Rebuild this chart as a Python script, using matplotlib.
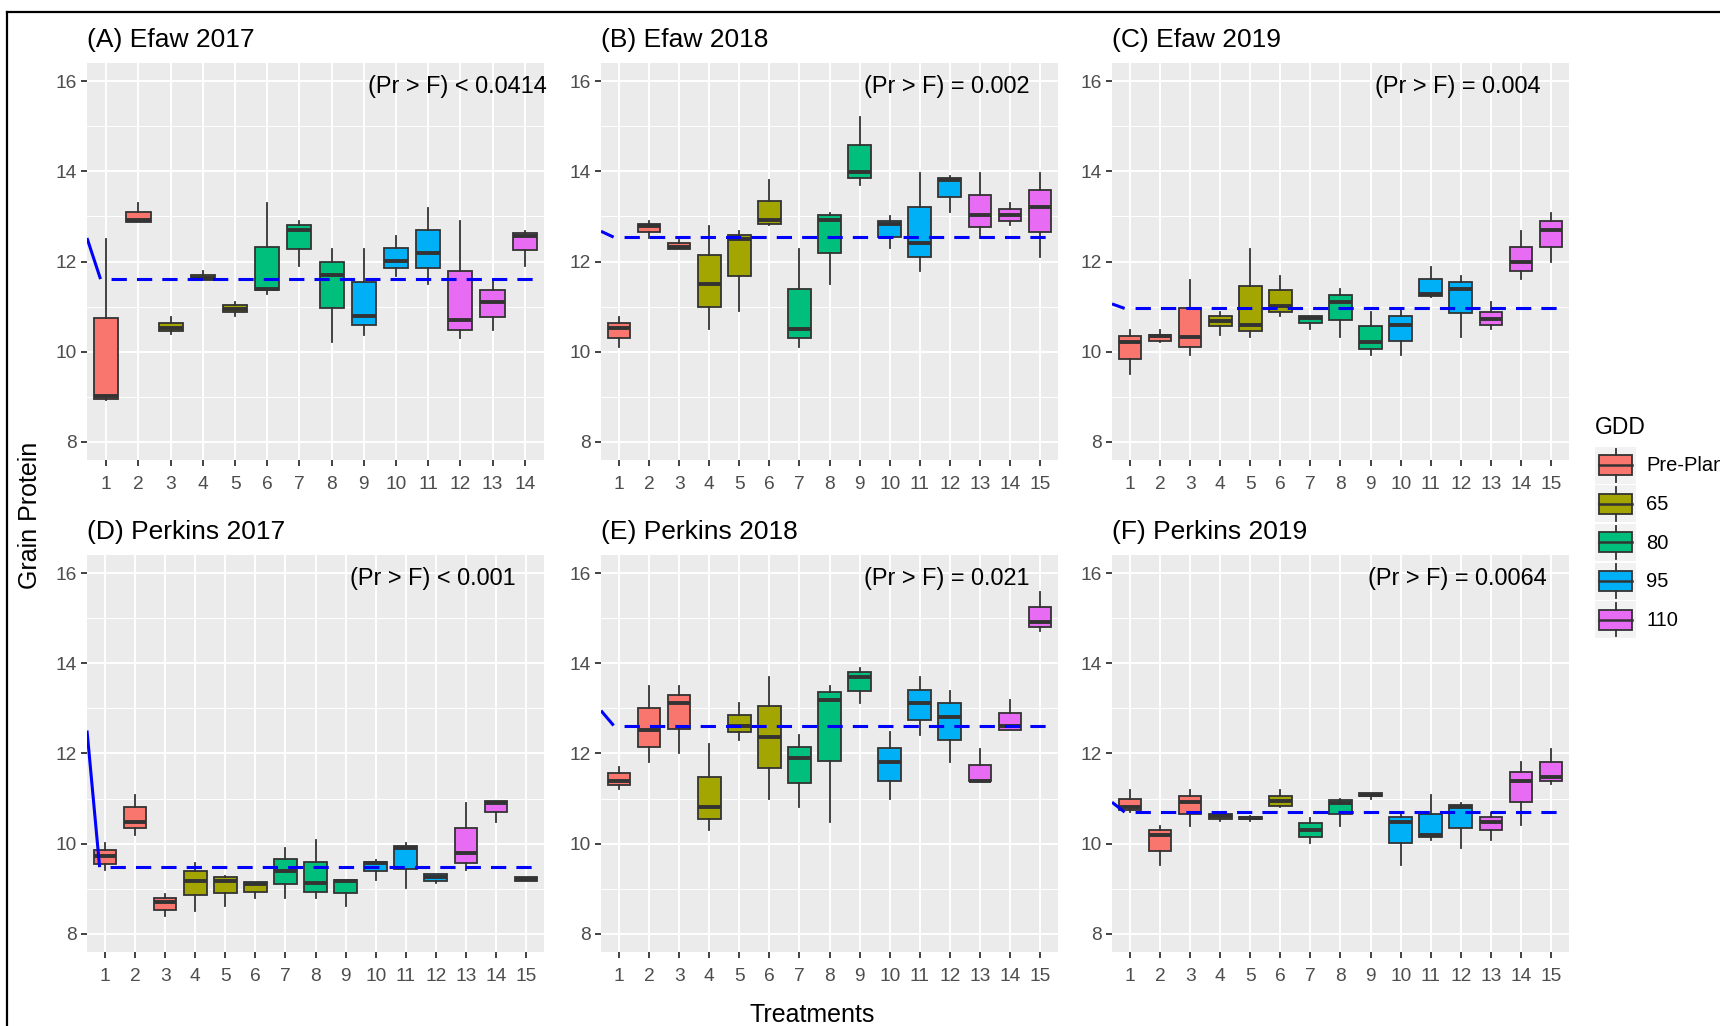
import matplotlib
matplotlib.use("Agg")
import matplotlib.pyplot as plt
from matplotlib.legend_handler import HandlerBase
from matplotlib.patches import Rectangle, Patch
from matplotlib.lines import Line2D

plt.rcParams['font.family'] = ['Liberation Sans', 'DejaVu Sans']

# ---- data ----
gdd_labels = ['Pre-Plant', '65', '80', '95', '110']
gdd_colors = ['#F8766D', '#A3A500', '#00BF7D', '#00B0F6', '#E76BF3']

titles = ['(A) Efaw 2017', '(B) Efaw 2018', '(C) Efaw 2019',
          '(D) Perkins 2017', '(E) Perkins 2018', '(F) Perkins 2019']
pvals = ['(Pr > F) < 0.0414', '(Pr > F) = 0.002', '(Pr > F) = 0.004',
         '(Pr > F) < 0.001', '(Pr > F) = 0.021', '(Pr > F) = 0.0064']

gdd_14 = [0, 0, 1, 1, 1, 2, 2, 2, 3, 3, 3, 4, 4, 4]
gdd_15 = [0, 0, 0, 1, 1, 1, 2, 2, 2, 3, 3, 3, 4, 4, 4]

A_lo  = [8.93, 12.88, 10.40, 11.60, 10.79, 11.28, 11.89, 10.21, 10.38, 11.67, 11.50, 10.31, 10.49, 11.89]
A_q1  = [8.95, 12.88, 10.45, 11.60, 10.88, 11.36, 12.28, 10.96, 10.59, 11.86, 11.86, 10.49, 10.78, 12.25]
A_med = [9.02, 12.91, 10.53, 11.63, 10.95, 11.39, 12.69, 11.69, 10.79, 12.01, 12.19, 10.71, 11.10, 12.56]
A_q3  = [10.75, 13.09, 10.64, 11.69, 11.03, 12.32, 12.80, 12.00, 11.54, 12.29, 12.69, 11.78, 11.36, 12.64]
A_hi  = [12.50, 13.29, 10.77, 11.78, 11.10, 13.29, 12.89, 12.28, 12.28, 12.57, 13.18, 12.90, 11.60, 12.67]

B_lo  = [10.11, 12.52, 12.28, 10.51, 10.90, 12.80, 10.11, 11.50, 13.70, 12.30, 11.80, 13.09, 12.52, 12.80, 12.11]
B_q1  = [10.31, 12.65, 12.28, 10.99, 11.67, 12.84, 10.31, 12.19, 13.85, 12.54, 12.10, 13.44, 12.76, 12.90, 12.65]
B_med = [10.52, 12.78, 12.33, 11.51, 12.50, 12.91, 10.51, 12.92, 13.99, 12.83, 12.41, 13.81, 13.02, 13.04, 13.20]
B_q3  = [10.64, 12.84, 12.41, 12.15, 12.58, 13.33, 11.39, 13.02, 14.58, 12.90, 13.20, 13.85, 13.48, 13.16, 13.59]
B_hi  = [10.77, 12.89, 12.48, 12.79, 12.67, 13.80, 12.28, 13.07, 15.20, 13.00, 13.97, 13.90, 13.97, 13.29, 13.97]

C_lo  = [9.50, 10.21, 9.92, 10.38, 10.32, 10.79, 10.51, 10.32, 9.92, 9.92, 11.21, 10.32, 10.51, 11.62, 12.00]
C_q1  = [9.84, 10.23, 10.10, 10.57, 10.45, 10.88, 10.64, 10.71, 10.07, 10.23, 11.24, 10.86, 10.60, 11.78, 12.32]
C_med = [10.21, 10.34, 10.32, 10.68, 10.60, 11.01, 10.75, 11.10, 10.21, 10.60, 11.28, 11.39, 10.73, 12.00, 12.69]
C_q3  = [10.34, 10.38, 10.97, 10.79, 11.46, 11.36, 10.79, 11.25, 10.57, 10.79, 11.61, 11.54, 10.88, 12.33, 12.90]
C_hi  = [10.48, 10.48, 11.60, 10.87, 12.28, 11.67, 10.79, 11.38, 10.88, 10.97, 11.88, 11.67, 11.10, 12.68, 13.07]

D_lo  = [9.42, 10.20, 8.39, 8.50, 8.61, 8.79, 8.79, 8.79, 8.61, 9.20, 9.01, 9.12, 9.42, 10.49, 9.17]
D_q1  = [9.54, 10.34, 8.53, 8.87, 8.90, 8.94, 9.11, 8.94, 8.90, 9.40, 9.44, 9.18, 9.58, 10.70, 9.17]
D_med = [9.72, 10.49, 8.70, 9.18, 9.18, 9.11, 9.40, 9.12, 9.18, 9.57, 9.91, 9.26, 9.80, 10.91, 9.22]
D_q3  = [9.85, 10.81, 8.79, 9.40, 9.26, 9.15, 9.66, 9.59, 9.20, 9.60, 9.95, 9.32, 10.34, 10.94, 9.26]
D_hi  = [10.01, 11.08, 8.89, 9.57, 9.29, 9.16, 9.90, 10.08, 9.20, 9.63, 10.01, 9.33, 10.90, 10.94, 9.27]

E_lo  = [11.21, 11.82, 12.00, 10.31, 12.29, 10.99, 10.81, 10.49, 13.11, 10.99, 12.40, 11.82, 11.38, 12.51, 14.71]
E_q1  = [11.30, 12.14, 12.54, 10.55, 12.47, 11.67, 11.35, 11.84, 13.39, 11.38, 12.75, 12.29, 11.38, 12.53, 14.80]
E_med = [11.40, 12.51, 13.12, 10.82, 12.62, 12.36, 11.89, 13.19, 13.69, 11.82, 13.12, 12.80, 11.40, 12.62, 14.91]
E_q3  = [11.57, 13.01, 13.30, 11.49, 12.86, 13.05, 12.14, 13.37, 13.80, 12.13, 13.41, 13.11, 11.75, 12.90, 15.24]
E_hi  = [11.71, 13.50, 13.50, 12.21, 13.11, 13.69, 12.40, 13.50, 13.90, 12.48, 13.69, 13.39, 12.10, 13.19, 15.59]

F_lo  = [10.71, 9.52, 10.40, 10.50, 10.50, 10.81, 10.01, 10.40, 10.99, 9.52, 10.09, 9.91, 10.09, 10.42, 11.32]
F_q1  = [10.75, 9.83, 10.66, 10.55, 10.55, 10.83, 10.16, 10.66, 11.05, 10.01, 10.16, 10.34, 10.31, 10.92, 11.38]
F_med = [10.82, 10.19, 10.92, 10.62, 10.58, 10.94, 10.31, 10.90, 11.08, 10.48, 10.20, 10.81, 10.48, 11.40, 11.49]
F_q3  = [10.99, 10.30, 11.05, 10.66, 10.60, 11.05, 10.45, 10.96, 11.12, 10.59, 10.66, 10.85, 10.59, 11.60, 11.82]
F_hi  = [11.20, 10.40, 11.20, 10.70, 10.62, 11.20, 10.57, 10.99, 11.13, 10.66, 11.08, 10.90, 10.68, 11.82, 12.10]

# overall mean (dashed line) and start of the solid lead-in segment
means = [11.61, 12.54, 10.96, 9.48, 12.62, 10.70]
lead_start = [12.52, 12.67, 11.06, 12.51, 12.95, 10.92]

panels = [
    (A_lo, A_q1, A_med, A_q3, A_hi, gdd_14),
    (B_lo, B_q1, B_med, B_q3, B_hi, gdd_15),
    (C_lo, C_q1, C_med, C_q3, C_hi, gdd_15),
    (D_lo, D_q1, D_med, D_q3, D_hi, gdd_15),
    (E_lo, E_q1, E_med, E_q3, E_hi, gdd_15),
    (F_lo, F_q1, F_med, F_q3, F_hi, gdd_15),
]

W, H = 1720, 1026
fig = plt.figure(figsize=(W/100, H/100), dpi=100)

lefts = [87, 601, 1112]
tops = [63, 555]
pw, ph = 457, 397

for k, (lo, q1, med, q3, hi, grp) in enumerate(panels):
    r, c = divmod(k, 3)
    ax = fig.add_axes([lefts[c]/W, 1 - (tops[r]+ph)/H, pw/W, ph/H])
    n = len(med)
    pos = list(range(1, n+1))
    stats = [dict(whislo=lo[i], q1=q1[i], med=med[i], q3=q3[i], whishi=hi[i], fliers=[])
             for i in range(n)]
    bp = ax.bxp(stats, positions=pos, widths=0.75, patch_artist=True, showcaps=False,
                boxprops=dict(edgecolor='#333333', linewidth=1.3),
                medianprops=dict(color='#333333', linewidth=2.8, solid_capstyle='butt'),
                whiskerprops=dict(color='#333333', linewidth=1.3))
    for patch, g in zip(bp['boxes'], grp):
        patch.set_facecolor(gdd_colors[g])
    for z in bp['boxes'] + bp['medians'] + bp['whiskers']:
        z.set_zorder(3)

    # mean line
    ax.plot([0.4, 0.82], [lead_start[k], means[k]], color='#0000FF', lw=2.2, zorder=4,
            solid_capstyle='butt')
    ax.plot([0.82, n + 0.35], [means[k], means[k]], color='#0000FF', lw=2.2, zorder=4,
            linestyle=(5, (5, 3.3)))

    ax.set_xlim(0.4, n + 0.6)
    ax.set_ylim(7.6, 16.4)
    ax.set_facecolor('#EBEBEB')
    ax.set_xticks(pos)
    ax.set_xticklabels([str(p) for p in pos])
    ax.set_yticks([8, 10, 12, 14, 16])
    ax.set_yticks([9, 11, 13, 15], minor=True)
    ax.grid(which='major', color='white', linewidth=1.4)
    ax.grid(which='minor', axis='y', color='white', linewidth=0.7)
    ax.set_axisbelow(True)
    for s in ax.spines.values():
        s.set_visible(False)
    ax.tick_params(axis='both', which='major', length=4.5, width=1.3, color='#333333',
                   labelsize=13.8, labelcolor='#4D4D4D', pad=3)
    ax.tick_params(axis='x', which='major', pad=7)
    ax.tick_params(which='minor', length=0)
    ax.set_title(titles[k], loc='left', fontsize=19, pad=11.5, color='black')
    ax.text(11.9, 15.88, pvals[k], fontsize=16.9, ha='center', va='center', color='black',
            zorder=5)

# axis labels
fig.text(30/W, 1 - 515/H, 'Grain Protein', rotation=90, ha='center', va='center', fontsize=18)
fig.text(812/W, 1 - 1015/H, 'Treatments', ha='center', va='center', fontsize=18)

# frame lines (left and top)
fig.add_artist(Line2D([7/W, 7/W], [0, 1 - 12/H], color='black', lw=1.6, transform=fig.transFigure))
fig.add_artist(Line2D([7/W, 1], [1 - 12/H, 1 - 12/H], color='black', lw=1.6, transform=fig.transFigure))


class BoxKey(HandlerBase):
    def create_artists(self, legend, orig_handle, xdescent, ydescent, width, height,
                       fontsize, trans):
        x0, y0 = -xdescent, -ydescent
        bg = Rectangle((x0, y0), width, height, facecolor='#F2F2F2', edgecolor='none',
                       transform=trans)
        box = Rectangle((x0 + 0.1*width, y0 + 0.23*height), 0.8*width, 0.54*height,
                        facecolor=orig_handle.get_facecolor(), edgecolor='#333333',
                        linewidth=1.3, transform=trans)
        xm = x0 + 0.5*width
        wlo = Line2D([xm, xm], [y0 + 0.05*height, y0 + 0.23*height], color='#333333',
                     lw=1.3, transform=trans)
        whi = Line2D([xm, xm], [y0 + 0.77*height, y0 + 0.95*height], color='#333333',
                     lw=1.3, transform=trans)
        med = Line2D([x0 + 0.1*width, x0 + 0.9*width], [y0 + 0.5*height]*2,
                     color='#333333', lw=1.8, transform=trans)
        return [bg, box, wlo, whi, med]


handles = [Patch(facecolor=c) for c in gdd_colors]
leg = fig.legend(handles, gdd_labels, title='GDD', loc='upper left',
                 bbox_to_anchor=(1581/W, 1 - 402/H), frameon=False, fontsize=14.5,
                 title_fontsize=16.5, handlelength=2.05, handleheight=2.45,
                 labelspacing=0.08, handletextpad=0.5, borderpad=0.2,
                 handler_map={Patch: BoxKey()}, alignment='left')
# a little more room between the legend title and the keys
leg._legend_box.sep = 5.5

fig.savefig('out.png', dpi=100)
